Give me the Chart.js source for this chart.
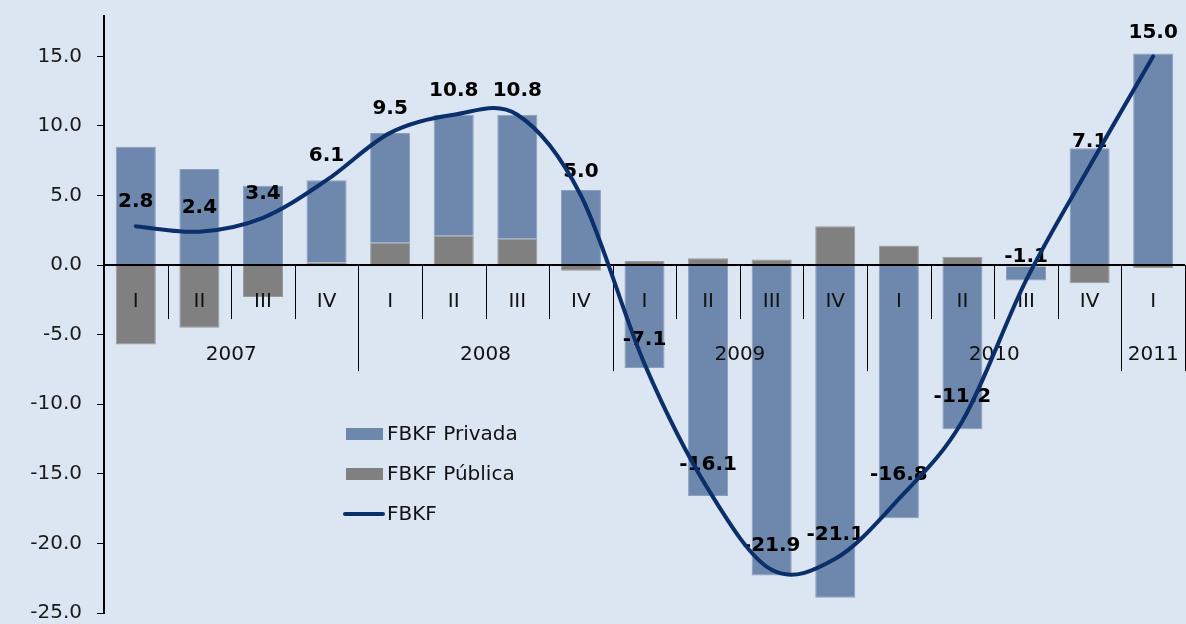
<!DOCTYPE html>
<html>
<head>
<meta charset="utf-8">
<title>FBKF</title>
<script src="https://cdn.jsdelivr.net/npm/chart.js"></script>
<style>
  html, body { margin: 0; padding: 0; background: #dce6f2; }
  #wrap { width: 1186px; height: 624px; position: relative; }
</style>
</head>
<body>
<div id="wrap"><canvas id="chart"></canvas></div>
<script>
// quarters and years along the category axis
const quarters = ["I", "II", "III", "IV", "I", "II", "III", "IV", "I", "II", "III", "IV", "I", "II", "III", "IV", "I"];
const years = ["2007", "2008", "2009", "2010", "2011"];
const yearSpans = [4, 4, 4, 4, 1];

// series
const privada = [8.5, 6.9, 5.7, 5.9, 7.9, 8.7, 8.9, 5.4, -7.4, -16.6, -22.3, -23.9, -18.2, -11.8, -1.0, 8.4, 15.2];
const publica = [-5.7, -4.5, -2.3, 0.2, 1.6, 2.1, 1.9, -0.4, 0.3, 0.5, 0.4, 2.8, 1.4, 0.6, -0.1, -1.3, -0.2];
const fbkf = [2.8, 2.4, 3.4, 6.1, 9.5, 10.8, 10.8, 5.0, -7.1, -16.1, -21.9, -21.1, -16.8, -11.2, -1.1, 7.1, 15.0];

const FONT = "'DejaVu Sans', Verdana, sans-serif";
const colPrivada = "#6d87ad";
const colPublica = "#808080";
const colLine = "#0b2f6a";

const background = {
    id: "background",
    beforeDraw(chart) {
        const ctx = chart.ctx;
        ctx.save();
        ctx.fillStyle = "#dce6f2";
        ctx.fillRect(0, 0, chart.width, chart.height);
        ctx.restore();
    }
};

// category axis drawn at y = 0 with quarter and year rows
const categoryAxis = {
    id: "categoryAxis",
    afterDatasetsDraw(chart) {
        const ctx = chart.ctx;
        const area = chart.chartArea;
        const x = chart.scales.x;
        const y = chart.scales.y;
        const y0 = y.getPixelForValue(0);
        const half = (x.getPixelForValue(1) - x.getPixelForValue(0)) / 2;
        const edge = i => i < quarters.length ? x.getPixelForValue(i) - half : x.getPixelForValue(quarters.length - 1) + half;

        ctx.save();
        ctx.strokeStyle = "#000";
        ctx.lineWidth = 1;
        let yearEdges = [0];
        yearSpans.reduce((acc, n) => { yearEdges.push(acc + n); return acc + n; }, 0);
        for (let i = 1; i <= quarters.length; i++) {
            const xb = Math.round(edge(i)) + 0.5;
            const long = yearEdges.includes(i);
            ctx.beginPath();
            ctx.moveTo(xb, y0);
            ctx.lineTo(xb, y0 + (long ? 106 : 54));
            ctx.stroke();
        }

        ctx.lineWidth = 2;
        ctx.beginPath();
        ctx.moveTo(area.left, y0);
        ctx.lineTo(area.right, y0);
        ctx.stroke();

        ctx.fillStyle = "#111";
        ctx.font = "20px " + FONT;
        ctx.textAlign = "center";
        ctx.textBaseline = "middle";
        quarters.forEach((q, i) => ctx.fillText(q, x.getPixelForValue(i), y0 + 37));
        years.forEach((yr, k) => {
            const a = edge(yearEdges[k]);
            const b = edge(yearEdges[k + 1]);
            ctx.fillText(yr, (a + b) / 2, y0 + 90);
        });
        ctx.restore();
    }
};

// value labels above the FBKF points
const lineLabels = {
    id: "lineLabels",
    afterDatasetsDraw(chart) {
        const ctx = chart.ctx;
        const meta = chart.getDatasetMeta(0);
        ctx.save();
        ctx.fillStyle = "#000";
        ctx.font = "bold 20px " + FONT;
        ctx.textAlign = "center";
        ctx.textBaseline = "middle";
        meta.data.forEach((pt, i) => {
            ctx.fillText(fbkf[i].toFixed(1), pt.x, pt.y - 24);
        });
        ctx.restore();
    }
};

// Excel-style smoothed line (uniform Catmull-Rom through the scaled points)
const smoothLine = {
    id: "smoothLine",
    afterDatasetsDraw(chart) {
        const ctx = chart.ctx;
        const pts = chart.getDatasetMeta(0).data.map(p => ({ x: p.x, y: p.y }));
        const n = pts.length;
        ctx.save();
        ctx.strokeStyle = colLine;
        ctx.lineWidth = 4;
        ctx.lineCap = "round";
        ctx.lineJoin = "round";
        ctx.beginPath();
        ctx.moveTo(pts[0].x, pts[0].y);
        for (let i = 0; i < n - 1; i++) {
            const p0 = pts[Math.max(i - 1, 0)];
            const p1 = pts[i];
            const p2 = pts[i + 1];
            const p3 = pts[Math.min(i + 2, n - 1)];
            ctx.bezierCurveTo(
                p1.x + (p2.x - p0.x) / 6, p1.y + (p2.y - p0.y) / 6,
                p2.x - (p3.x - p1.x) / 6, p2.y - (p3.y - p1.y) / 6,
                p2.x, p2.y
            );
        }
        ctx.stroke();
        ctx.restore();
    }
};

// legend inside the plot
const legendBox = {
    id: "legendBox",
    afterDraw(chart) {
        const ctx = chart.ctx;
        const items = [
            { label: "FBKF Privada", color: colPrivada, type: "bar" },
            { label: "FBKF Pública", color: colPublica, type: "bar" },
            { label: "FBKF", color: colLine, type: "line" }
        ];
        const left = 346, top = 434, gap = 40;
        ctx.save();
        ctx.font = "20px " + FONT;
        ctx.textBaseline = "middle";
        ctx.textAlign = "left";
        items.forEach((it, i) => {
            const cy = top + i * gap;
            if (it.type === "bar") {
                ctx.fillStyle = it.color;
                ctx.fillRect(left, cy - 6, 37, 12);
            } else {
                ctx.strokeStyle = it.color;
                ctx.lineWidth = 4;
                ctx.lineCap = "round";
                ctx.beginPath();
                ctx.moveTo(left - 1, cy);
                ctx.lineTo(left + 37, cy);
                ctx.stroke();
            }
            ctx.fillStyle = "#111";
            ctx.fillText(it.label, left + 41, cy + 1);
        });
        ctx.restore();
    }
};

new Chart(document.getElementById("chart").getContext("2d"), {
    type: "bar",
    data: {
        labels: quarters.map((q, i) => q + "-" + i),
        datasets: [
            {
                type: "line",
                label: "FBKF",
                data: fbkf,
                stack: "line",
                borderColor: colLine,
                borderWidth: 4,
                showLine: false,
                pointRadius: 0,
                fill: false
            },
            {
                label: "FBKF Pública",
                data: publica,
                stack: "bars",
                backgroundColor: colPublica,
                borderColor: "#9a9a9a",
                borderWidth: 1,
                categoryPercentage: 1,
                barPercentage: 0.63
            },
            {
                label: "FBKF Privada",
                data: privada,
                stack: "bars",
                backgroundColor: colPrivada,
                borderColor: "#8a9ec0",
                borderWidth: 1,
                categoryPercentage: 1,
                barPercentage: 0.63
            }
        ]
    },
    options: {
        responsive: true,
        maintainAspectRatio: false,
        animation: false,
        layout: { padding: { top: 16, right: 1, bottom: 11, left: 0 } },
        plugins: {
            legend: { display: false },
            tooltip: { enabled: false }
        },
        scales: {
            x: { stacked: true, display: false, offset: true },
            y: {
                stacked: true,
                min: -25,
                max: 17.9,
                border: { display: true, color: "#000", width: 2 },
                grid: { drawOnChartArea: false, drawTicks: true, tickLength: 7, color: "#000" },
                ticks: {
                    stepSize: 5,
                    includeBounds: false,
                    padding: 15,
                    color: "#1a1a1a",
                    font: { family: FONT, size: 20 },
                    callback: v => Number(v).toFixed(1)
                },
                afterFit(scale) {
                    scale.width = 104;
                    scale.paddingTop = 0;
                    scale.paddingBottom = 0;
                }
            }
        }
    },
    plugins: [background, categoryAxis, lineLabels, smoothLine, legendBox]
});
</script>
</body>
</html>
